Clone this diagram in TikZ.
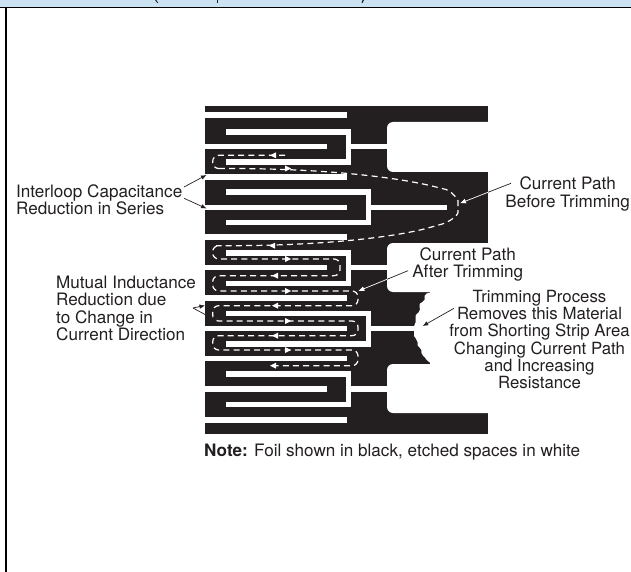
\documentclass[tikz,border=0pt]{standalone}
\usepackage{fontspec}
\setmainfont{TeX Gyre Heros}
\usetikzlibrary{arrows.meta,calc}
\definecolor{foil}{HTML}{231F20}
\definecolor{band}{HTML}{CBE2F3}
\newcommand{\wb}[4]{\fill[white] (#1,#2) rectangle (#3,#4);}
\newcommand{\arR}[2]{\fill[white] (#1-3,#2-3) -- (#1+3,#2) -- (#1-3,#2+3) -- cycle;}
\newcommand{\arL}[2]{\fill[white] (#1+3,#2-3) -- (#1-3,#2) -- (#1+3,#2+3) -- cycle;}
\tikzset{
  lbl/.style={inner sep=0pt,text=foil,font=\fontsize{17.1}{17.2}\selectfont},
  leadk/.style={draw=foil,line width=0.7pt,-{Latex[length=5.5pt,width=4.5pt]}},
  leadw/.style={draw=white,line width=0.7pt,-{Latex[length=6pt,width=5pt]}},
  cur/.style={draw=white,line width=1.2pt,dash pattern=on 6pt off 4.2pt,rounded corners=6pt}
}
\begin{document}
\begin{tikzpicture}[x=1pt,y=-1pt]
\useasboundingbox (0,0) rectangle (631,572);
\fill[white] (0,0) rectangle (631,572);
% header band and frame
\fill[band] (0,0) rectangle (631,7);
\fill[black] (0,7) rectangle (631,8.5);
\fill[black] (4.8,7) rectangle (6.6,572);
\fill[foil] (155,0) -- (156.3,0) -- (158.3,3) -- (157.3,3) -- cycle;
\fill[foil] (216.5,0) rectangle (218,3.5);
\fill[foil] (362.5,0) -- (364,0) -- (362.5,3) -- (361.5,3) -- cycle;
% foil
\fill[foil] (205,106) rectangle (488,434);
% etched windows
\fill[white,rounded corners=6pt] (387,122) rectangle (500,172);
\fill[white,rounded corners=6pt] (387,243) rectangle (500,292);
\fill[white,rounded corners=6pt] (387,364) rectangle (500,413);
\fill[white] (430,285) rectangle (500,300);
\fill[white] (430,355) rectangle (500,372);
\fill[white] (488,122) rectangle (500,172);
% trimmed edge
\fill[white] (434,292) -- (431.7,292.3) .. controls (427,293) and (425,294) .. (424.5,296)
  .. controls (425.5,299) and (424.5,301) .. (422.5,302)
  .. controls (420,303) and (419,304) .. (419.5,306)
  .. controls (420.5,309) and (420,311) .. (418.5,312.5)
  .. controls (416,314) and (415,315.5) .. (415.5,318)
  .. controls (416,321) and (416,323) .. (414.5,325)
  .. controls (413.5,327) and (413.5,329) .. (414,331)
  .. controls (414.5,333) and (414,334.5) .. (414,336)
  .. controls (414.5,338) and (417.5,339) .. (417.5,342)
  .. controls (417,345) and (417.5,346.5) .. (419.5,347.5)
  .. controls (421.5,349) and (422,351) .. (421.5,353)
  .. controls (422,355.5) and (424,356) .. (425,357.5)
  .. controls (426,360) and (429,362.5) .. (433,364) -- (490,364) -- (490,292) -- cycle;
% traces
\foreach \y in {112.3,174.3,234.3,295.3,355.7,417} {\wb{205}{\y}{346.7}{\y+5.7}}
% comb 1
\wb{225.7}{129.3}{351}{135}\wb{225.7}{159.3}{351}{165}\wb{345.7}{129.3}{351}{165}
\wb{205}{144}{326.7}{149.3}\wb{345.7}{144}{388}{149.3}
% comb 2
\wb{225.7}{189.3}{371}{195}\wb{225.7}{219.7}{371}{225.3}\wb{365.7}{189.3}{371}{225.3}
\wb{205}{204.7}{346.7}{210}\wb{365.7}{204.7}{447.3}{210}
% comb 3
\wb{225.7}{250}{351}{255.7}\wb{225.7}{280.7}{351}{286}\wb{345.7}{250}{351}{286}
\wb{205}{265}{326.7}{270.3}\wb{345.7}{265}{388}{270.3}
% comb 4
\wb{225.7}{310.7}{371}{316}\wb{225.7}{341}{371}{346.7}\wb{365.7}{310.7}{371}{346.7}
\wb{205}{325.7}{346.7}{331}\wb{365.7}{325.7}{415}{331}
% comb 5
\wb{225.7}{371.3}{351}{377}\wb{225.7}{401.7}{351}{407}\wb{345.7}{371.3}{351}{407}
\wb{205}{386}{326.7}{391.7}\wb{345.7}{386}{388}{391.7}
% current path
\draw[cur] (285,155.3) -- (212.7,155.3) -- (212.7,168.5) -- (222,168.5)
  .. controls (330,168.5) and (400,178) .. (440,188)
  .. controls (452,191) and (458,200) .. (458,206.7)
  .. controls (458,215) and (450,222) .. (435,226)
  .. controls (400,236) and (330,245.7) .. (222,245.7)
  -- (212.7,245.7) -- (212.7,259) -- (340,259) -- (340,275.7) -- (212.7,275.7)
  -- (212.7,291) -- (358,291) -- (358,305.7) -- (212.7,305.7)
  -- (212.7,321) -- (358,321) -- (358,335.7) -- (212.7,335.7)
  -- (212.7,350) -- (358,350) -- (358,365.7) -- (274,365.7);
\arL{273}{155.3}\arR{288}{168.5}\arL{272}{245.7}\arR{288}{259}\arL{275}{275.7}
\arR{288}{291}\arL{275}{305.7}\arR{288}{321}\arL{275}{335.7}\arR{288}{350}\arL{273}{365.7}
% labels
\node[lbl,align=left,anchor=west] (inter) at (16,199.5) {Interloop Capacitance\\Reduction in Series};
\node[lbl,align=left,anchor=west] (mutual) at (56,308.5) {Mutual Inductance\\Reduction due\\to Change in\\Current Direction};
\node[lbl,align=center] (before) at (567.7,194) {Current Path\\Before Trimming};
\node[lbl,align=center] (after) at (467.7,264.5) {Current Path\\After Trimming};
\node[lbl,align=center,font=\fontsize{16.8}{17.2}\selectfont] (trim) at (539.5,339.5) {Trimming Process\\Removes this Material\\from Shorting Strip Area\\Changing Current Path\\and Increasing\\Resistance};
\node[lbl,anchor=west] (note) at (204,452) {\textbf{Note:} Foil shown in black, etched spaces in white};
% leaders
\coordinate (i1) at (184,187); \coordinate (i1t) at (206.5,175);
\coordinate (i2) at (184,198.3); \coordinate (i2t) at (206.5,208.5);
\coordinate (m0) at (193,308); \coordinate (m1t) at (205,305.5); \coordinate (m2t) at (217,321);
\coordinate (bs) at (511,183.3); \coordinate (bm) at (488,192.3); \coordinate (bt) at (460,203.3);
\coordinate (as) at (408,270.7); \coordinate (am) at (387,279.3); \coordinate (at) at (358.3,291);
\coordinate (ts) at (454,308.3); \coordinate (tt) at (422.7,326);
\draw[leadk] (i1) -- (i1t);
\draw[leadk] (i2) -- (i2t);
\draw[leadk] (m0) -- (m1t);
\draw[leadk] (m0) -- (m2t);
\draw[draw=foil,line width=0.7pt] (bs) -- (bm);
\draw[leadw] (bm) -- (bt);
\draw[draw=foil,line width=0.7pt] (as) -- (am);
\draw[leadw] (am) -- (at);
\draw[leadk] (ts) -- (tt);
\end{tikzpicture}
\end{document}
